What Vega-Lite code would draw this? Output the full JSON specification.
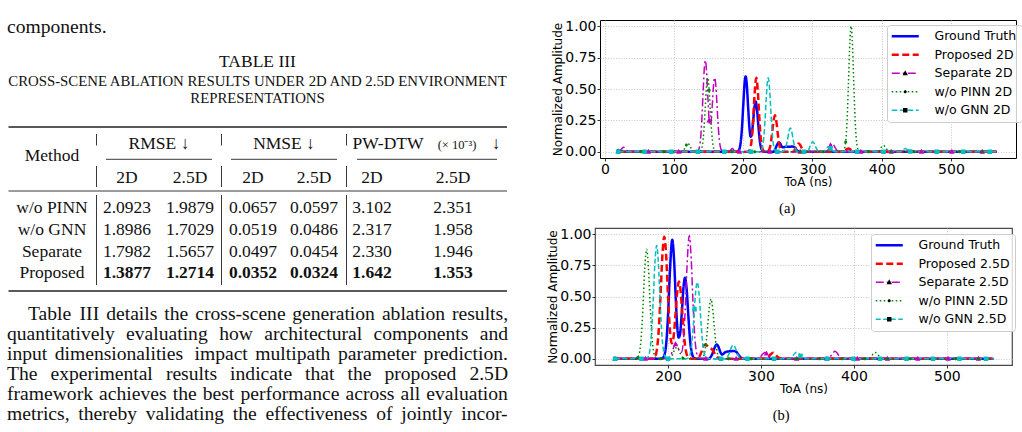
{
  "$schema": "https://vega.github.io/schema/vega-lite/v6.json",
  "padding": 0,
  "background": "white",
  "config": {
    "view": {"stroke": null},
    "axis": {
      "labelFont": "DejaVu Sans", "labelFontSize": 14, "labelColor": "#000", "labelOverlap": false,
      "titleFont": "DejaVu Sans", "titleFontSize": 12, "titleFontWeight": "normal", "titleColor": "#000",
      "domain": false, "tickColor": "#000", "tickSize": 3, "tickWidth": 0.8,
      "labelPadding": 1, "titlePadding": 0,
      "grid": true, "gridColor": "#b8b8b8", "gridDash": [1, 1.6], "gridWidth": 0.8
    }
  },
  "datasets": {
    "a_lines": [
      {"s":"Ground Truth","t":19.2,"a":0},{"s":"Ground Truth","t":190,"a":0},{"s":"Ground Truth","t":192,"a":0.003},{"s":"Ground Truth","t":194,"a":0.016},{"s":"Ground Truth","t":196,"a":0.064},{"s":"Ground Truth","t":198,"a":0.18},{"s":"Ground Truth","t":200,"a":0.374},{"s":"Ground Truth","t":202,"a":0.554},{"s":"Ground Truth","t":203.4,"a":0.6},{"s":"Ground Truth","t":205,"a":0.54},{"s":"Ground Truth","t":207,"a":0.356},{"s":"Ground Truth","t":209,"a":0.184},{"s":"Ground Truth","t":210.6,"a":0.12},{"s":"Ground Truth","t":212,"a":0.13},{"s":"Ground Truth","t":214,"a":0.228},{"s":"Ground Truth","t":216,"a":0.35},{"s":"Ground Truth","t":217.8,"a":0.4},{"s":"Ground Truth","t":220,"a":0.328},{"s":"Ground Truth","t":222,"a":0.195},{"s":"Ground Truth","t":224,"a":0.083},{"s":"Ground Truth","t":226,"a":0.026},{"s":"Ground Truth","t":228,"a":0.006},{"s":"Ground Truth","t":230,"a":0},{"s":"Ground Truth","t":244,"a":0},{"s":"Ground Truth","t":247,"a":0.032},{"s":"Ground Truth","t":249.5,"a":0.063},{"s":"Ground Truth","t":251.5,"a":0.074},{"s":"Ground Truth","t":253.5,"a":0.063},{"s":"Ground Truth","t":256,"a":0.038},{"s":"Ground Truth","t":258,"a":0.036},{"s":"Ground Truth","t":262,"a":0.04},{"s":"Ground Truth","t":266,"a":0.039},{"s":"Ground Truth","t":270,"a":0.041},{"s":"Ground Truth","t":273,"a":0.04},{"s":"Ground Truth","t":276,"a":0.02},{"s":"Ground Truth","t":279,"a":0.004},{"s":"Ground Truth","t":282,"a":0},{"s":"Ground Truth","t":566,"a":0},

      {"s":"Proposed 2D","t":19.2,"a":0},{"s":"Proposed 2D","t":206,"a":0},{"s":"Proposed 2D","t":208,"a":0.005},{"s":"Proposed 2D","t":210,"a":0.025},{"s":"Proposed 2D","t":212,"a":0.089},{"s":"Proposed 2D","t":214,"a":0.23},{"s":"Proposed 2D","t":216,"a":0.43},{"s":"Proposed 2D","t":218.8,"a":0.59},{"s":"Proposed 2D","t":221,"a":0.484},{"s":"Proposed 2D","t":223,"a":0.287},{"s":"Proposed 2D","t":225,"a":0.123},{"s":"Proposed 2D","t":227,"a":0.038},{"s":"Proposed 2D","t":229,"a":0.008},{"s":"Proposed 2D","t":231,"a":0},{"s":"Proposed 2D","t":233,"a":0.001},{"s":"Proposed 2D","t":235,"a":0.003},{"s":"Proposed 2D","t":237,"a":0.013},{"s":"Proposed 2D","t":239,"a":0.046},{"s":"Proposed 2D","t":241,"a":0.118},{"s":"Proposed 2D","t":243,"a":0.215},{"s":"Proposed 2D","t":245.7,"a":0.29},{"s":"Proposed 2D","t":248,"a":0.234},{"s":"Proposed 2D","t":250,"a":0.136},{"s":"Proposed 2D","t":252,"a":0.057},{"s":"Proposed 2D","t":254,"a":0.017},{"s":"Proposed 2D","t":256,"a":0.004},{"s":"Proposed 2D","t":258,"a":0},{"s":"Proposed 2D","t":273,"a":0},{"s":"Proposed 2D","t":275,"a":0.024},{"s":"Proposed 2D","t":277.5,"a":0.051},{"s":"Proposed 2D","t":280,"a":0.066},{"s":"Proposed 2D","t":282.5,"a":0.051},{"s":"Proposed 2D","t":285,"a":0.024},{"s":"Proposed 2D","t":288,"a":0.003},{"s":"Proposed 2D","t":290,"a":0},{"s":"Proposed 2D","t":345,"a":0},{"s":"Proposed 2D","t":348,"a":0.013},{"s":"Proposed 2D","t":352,"a":0.026},{"s":"Proposed 2D","t":356,"a":0.013},{"s":"Proposed 2D","t":360,"a":0},{"s":"Proposed 2D","t":566,"a":0},

      {"s":"Separate 2D","t":19.2,"a":0.003},{"s":"Separate 2D","t":22,"a":0.01},{"s":"Separate 2D","t":24.5,"a":0.025},{"s":"Separate 2D","t":27,"a":0.035},{"s":"Separate 2D","t":29.5,"a":0.025},{"s":"Separate 2D","t":32,"a":0.01},{"s":"Separate 2D","t":35,"a":0},{"s":"Separate 2D","t":132,"a":0},{"s":"Separate 2D","t":134,"a":0.004},{"s":"Separate 2D","t":136,"a":0.023},{"s":"Separate 2D","t":138,"a":0.088},{"s":"Separate 2D","t":140,"a":0.241},{"s":"Separate 2D","t":142,"a":0.479},{"s":"Separate 2D","t":144,"a":0.686},{"s":"Separate 2D","t":145.2,"a":0.727},{"s":"Separate 2D","t":147,"a":0.639},{"s":"Separate 2D","t":149,"a":0.416},{"s":"Separate 2D","t":151.5,"a":0.214},{"s":"Separate 2D","t":153,"a":0.218},{"s":"Separate 2D","t":155,"a":0.351},{"s":"Separate 2D","t":157,"a":0.528},{"s":"Separate 2D","t":158.7,"a":0.59},{"s":"Separate 2D","t":160.5,"a":0.517},{"s":"Separate 2D","t":162.5,"a":0.327},{"s":"Separate 2D","t":164.5,"a":0.15},{"s":"Separate 2D","t":166.5,"a":0.049},{"s":"Separate 2D","t":168.5,"a":0.012},{"s":"Separate 2D","t":171,"a":0},{"s":"Separate 2D","t":179,"a":0},{"s":"Separate 2D","t":181.5,"a":0.012},{"s":"Separate 2D","t":184,"a":0.025},{"s":"Separate 2D","t":186.5,"a":0.012},{"s":"Separate 2D","t":189,"a":0},{"s":"Separate 2D","t":320,"a":0},{"s":"Separate 2D","t":323.5,"a":0.024},{"s":"Separate 2D","t":326,"a":0.051},{"s":"Separate 2D","t":328.5,"a":0.066},{"s":"Separate 2D","t":331,"a":0.051},{"s":"Separate 2D","t":333.5,"a":0.024},{"s":"Separate 2D","t":337,"a":0.002},{"s":"Separate 2D","t":340,"a":0},{"s":"Separate 2D","t":566,"a":0},

      {"s":"w/o PINN 2D","t":19.2,"a":0.01},{"s":"w/o PINN 2D","t":22,"a":0.02},{"s":"w/o PINN 2D","t":25,"a":0.01},{"s":"w/o PINN 2D","t":28,"a":0},{"s":"w/o PINN 2D","t":112,"a":0},{"s":"w/o PINN 2D","t":115,"a":0.024},{"s":"w/o PINN 2D","t":117.5,"a":0.051},{"s":"w/o PINN 2D","t":120,"a":0.066},{"s":"w/o PINN 2D","t":122.5,"a":0.051},{"s":"w/o PINN 2D","t":125,"a":0.024},{"s":"w/o PINN 2D","t":128,"a":0.003},{"s":"w/o PINN 2D","t":131,"a":0},{"s":"w/o PINN 2D","t":137,"a":0.002},{"s":"w/o PINN 2D","t":139,"a":0.014},{"s":"w/o PINN 2D","t":141,"a":0.056},{"s":"w/o PINN 2D","t":143,"a":0.164},{"s":"w/o PINN 2D","t":145,"a":0.348},{"s":"w/o PINN 2D","t":147,"a":0.531},{"s":"w/o PINN 2D","t":148.6,"a":0.59},{"s":"w/o PINN 2D","t":150.5,"a":0.509},{"s":"w/o PINN 2D","t":152.5,"a":0.317},{"s":"w/o PINN 2D","t":154.5,"a":0.142},{"s":"w/o PINN 2D","t":156.5,"a":0.046},{"s":"w/o PINN 2D","t":158.5,"a":0.011},{"s":"w/o PINN 2D","t":161,"a":0},{"s":"w/o PINN 2D","t":342,"a":0},{"s":"w/o PINN 2D","t":344,"a":0.003},{"s":"w/o PINN 2D","t":346,"a":0.02},{"s":"w/o PINN 2D","t":348,"a":0.084},{"s":"w/o PINN 2D","t":350,"a":0.254},{"s":"w/o PINN 2D","t":352,"a":0.555},{"s":"w/o PINN 2D","t":354,"a":0.876},{"s":"w/o PINN 2D","t":355.8,"a":1.0},{"s":"w/o PINN 2D","t":357.5,"a":0.889},{"s":"w/o PINN 2D","t":359.5,"a":0.572},{"s":"w/o PINN 2D","t":361.5,"a":0.266},{"s":"w/o PINN 2D","t":363.5,"a":0.089},{"s":"w/o PINN 2D","t":365.5,"a":0.022},{"s":"w/o PINN 2D","t":368,"a":0.002},{"s":"w/o PINN 2D","t":370,"a":0},{"s":"w/o PINN 2D","t":396,"a":0},{"s":"w/o PINN 2D","t":397.5,"a":0.018},{"s":"w/o PINN 2D","t":400,"a":0.039},{"s":"w/o PINN 2D","t":402.5,"a":0.05},{"s":"w/o PINN 2D","t":405,"a":0.039},{"s":"w/o PINN 2D","t":407.5,"a":0.018},{"s":"w/o PINN 2D","t":410,"a":0.003},{"s":"w/o PINN 2D","t":413,"a":0},{"s":"w/o PINN 2D","t":566,"a":0},

      {"s":"w/o GNN 2D","t":19.2,"a":0},{"s":"w/o GNN 2D","t":224,"a":0},{"s":"w/o GNN 2D","t":225,"a":0.004},{"s":"w/o GNN 2D","t":227,"a":0.022},{"s":"w/o GNN 2D","t":229,"a":0.08},{"s":"w/o GNN 2D","t":231,"a":0.212},{"s":"w/o GNN 2D","t":233,"a":0.408},{"s":"w/o GNN 2D","t":235,"a":0.566},{"s":"w/o GNN 2D","t":236,"a":0.59},{"s":"w/o GNN 2D","t":237.5,"a":0.538},{"s":"w/o GNN 2D","t":239.5,"a":0.358},{"s":"w/o GNN 2D","t":241.5,"a":0.172},{"s":"w/o GNN 2D","t":243.5,"a":0.06},{"s":"w/o GNN 2D","t":245.5,"a":0.015},{"s":"w/o GNN 2D","t":248,"a":0.002},{"s":"w/o GNN 2D","t":250,"a":0},{"s":"w/o GNN 2D","t":256,"a":0},{"s":"w/o GNN 2D","t":258,"a":0.003},{"s":"w/o GNN 2D","t":260,"a":0.014},{"s":"w/o GNN 2D","t":262,"a":0.044},{"s":"w/o GNN 2D","t":264,"a":0.099},{"s":"w/o GNN 2D","t":266,"a":0.162},{"s":"w/o GNN 2D","t":268,"a":0.19},{"s":"w/o GNN 2D","t":270,"a":0.162},{"s":"w/o GNN 2D","t":272,"a":0.099},{"s":"w/o GNN 2D","t":274,"a":0.044},{"s":"w/o GNN 2D","t":276,"a":0.014},{"s":"w/o GNN 2D","t":278,"a":0.003},{"s":"w/o GNN 2D","t":280,"a":0},{"s":"w/o GNN 2D","t":293,"a":0},{"s":"w/o GNN 2D","t":295.4,"a":0.029},{"s":"w/o GNN 2D","t":297.9,"a":0.062},{"s":"w/o GNN 2D","t":300.4,"a":0.08},{"s":"w/o GNN 2D","t":302.9,"a":0.062},{"s":"w/o GNN 2D","t":305.4,"a":0.029},{"s":"w/o GNN 2D","t":308.5,"a":0.003},{"s":"w/o GNN 2D","t":311,"a":0},{"s":"w/o GNN 2D","t":316,"a":0},{"s":"w/o GNN 2D","t":319,"a":0.021},{"s":"w/o GNN 2D","t":321,"a":0.034},{"s":"w/o GNN 2D","t":323,"a":0.04},{"s":"w/o GNN 2D","t":325.5,"a":0.031},{"s":"w/o GNN 2D","t":328,"a":0.014},{"s":"w/o GNN 2D","t":331,"a":0.001},{"s":"w/o GNN 2D","t":333,"a":0},{"s":"w/o GNN 2D","t":427,"a":0},{"s":"w/o GNN 2D","t":430,"a":0.013},{"s":"w/o GNN 2D","t":432,"a":0.021},{"s":"w/o GNN 2D","t":434,"a":0.025},{"s":"w/o GNN 2D","t":436,"a":0.021},{"s":"w/o GNN 2D","t":438,"a":0.013},{"s":"w/o GNN 2D","t":441,"a":0.002},{"s":"w/o GNN 2D","t":443,"a":0},{"s":"w/o GNN 2D","t":566,"a":0}
    ],
    "a_marks": [
      {"s":"Separate 2D","t":19.2,"a":0.003},{"s":"Separate 2D","t":63,"a":0},{"s":"Separate 2D","t":106.9,"a":0},{"s":"Separate 2D","t":150.7,"a":0.25},{"s":"Separate 2D","t":194.5,"a":0},{"s":"Separate 2D","t":238.4,"a":0},{"s":"Separate 2D","t":282.2,"a":0},{"s":"Separate 2D","t":326,"a":0.051},{"s":"Separate 2D","t":369.8,"a":0},{"s":"Separate 2D","t":413.7,"a":0},{"s":"Separate 2D","t":457.5,"a":0},{"s":"Separate 2D","t":501.3,"a":0},{"s":"Separate 2D","t":545.2,"a":0},
      {"s":"w/o PINN 2D","t":19.2,"a":0.01},{"s":"w/o PINN 2D","t":52.1,"a":0},{"s":"w/o PINN 2D","t":84.9,"a":0},{"s":"w/o PINN 2D","t":117.8,"a":0.053},{"s":"w/o PINN 2D","t":150.7,"a":0.49},{"s":"w/o PINN 2D","t":183.6,"a":0},{"s":"w/o PINN 2D","t":216.4,"a":0},{"s":"w/o PINN 2D","t":249.3,"a":0},{"s":"w/o PINN 2D","t":282.2,"a":0},{"s":"w/o PINN 2D","t":315.1,"a":0},{"s":"w/o PINN 2D","t":347.9,"a":0.078},{"s":"w/o PINN 2D","t":380.8,"a":0},{"s":"w/o PINN 2D","t":413.7,"a":0},{"s":"w/o PINN 2D","t":446.6,"a":0},{"s":"w/o PINN 2D","t":479.4,"a":0},{"s":"w/o PINN 2D","t":512.3,"a":0},{"s":"w/o PINN 2D","t":545.2,"a":0},
      {"s":"w/o GNN 2D","t":19.2,"a":0},{"s":"w/o GNN 2D","t":57.5,"a":0},{"s":"w/o GNN 2D","t":95.9,"a":0},{"s":"w/o GNN 2D","t":134.3,"a":0},{"s":"w/o GNN 2D","t":172.6,"a":0},{"s":"w/o GNN 2D","t":211,"a":0},{"s":"w/o GNN 2D","t":249.3,"a":0},{"s":"w/o GNN 2D","t":287.7,"a":0},{"s":"w/o GNN 2D","t":326,"a":0.028},{"s":"w/o GNN 2D","t":364.4,"a":0},{"s":"w/o GNN 2D","t":402.7,"a":0},{"s":"w/o GNN 2D","t":441.1,"a":0.002},{"s":"w/o GNN 2D","t":479.4,"a":0},{"s":"w/o GNN 2D","t":517.8,"a":0},{"s":"w/o GNN 2D","t":556.1,"a":0}
    ],
    "b_lines": [
      {"s":"Ground Truth","t":143,"a":0},{"s":"Ground Truth","t":192,"a":0},{"s":"Ground Truth","t":194,"a":0.004},{"s":"Ground Truth","t":196,"a":0.026},{"s":"Ground Truth","t":198,"a":0.114},{"s":"Ground Truth","t":200,"a":0.34},{"s":"Ground Truth","t":202,"a":0.687},{"s":"Ground Truth","t":204.6,"a":0.955},{"s":"Ground Truth","t":206.5,"a":0.8},{"s":"Ground Truth","t":208.5,"a":0.461},{"s":"Ground Truth","t":210,"a":0.253},{"s":"Ground Truth","t":211.5,"a":0.17},{"s":"Ground Truth","t":213,"a":0.2},{"s":"Ground Truth","t":215,"a":0.387},{"s":"Ground Truth","t":216.8,"a":0.583},{"s":"Ground Truth","t":218.3,"a":0.65},{"s":"Ground Truth","t":220,"a":0.565},{"s":"Ground Truth","t":222,"a":0.333},{"s":"Ground Truth","t":224,"a":0.133},{"s":"Ground Truth","t":226,"a":0.036},{"s":"Ground Truth","t":228,"a":0.007},{"s":"Ground Truth","t":230,"a":0.001},{"s":"Ground Truth","t":232,"a":0},{"s":"Ground Truth","t":244,"a":0},{"s":"Ground Truth","t":246,"a":0.015},{"s":"Ground Truth","t":248,"a":0.044},{"s":"Ground Truth","t":250,"a":0.086},{"s":"Ground Truth","t":252.4,"a":0.114},{"s":"Ground Truth","t":254.5,"a":0.092},{"s":"Ground Truth","t":256.5,"a":0.05},{"s":"Ground Truth","t":258.5,"a":0.034},{"s":"Ground Truth","t":261,"a":0.05},{"s":"Ground Truth","t":264,"a":0.058},{"s":"Ground Truth","t":267,"a":0.06},{"s":"Ground Truth","t":271,"a":0.062},{"s":"Ground Truth","t":273.5,"a":0.055},{"s":"Ground Truth","t":276,"a":0.03},{"s":"Ground Truth","t":278.5,"a":0.008},{"s":"Ground Truth","t":281,"a":0},{"s":"Ground Truth","t":550,"a":0},

      {"s":"Proposed 2.5D","t":143,"a":0},{"s":"Proposed 2.5D","t":183,"a":0},{"s":"Proposed 2.5D","t":184,"a":0.003},{"s":"Proposed 2.5D","t":186,"a":0.017},{"s":"Proposed 2.5D","t":188,"a":0.072},{"s":"Proposed 2.5D","t":190,"a":0.225},{"s":"Proposed 2.5D","t":192,"a":0.51},{"s":"Proposed 2.5D","t":194,"a":0.833},{"s":"Proposed 2.5D","t":196,"a":0.98},{"s":"Proposed 2.5D","t":198,"a":0.833},{"s":"Proposed 2.5D","t":200,"a":0.512},{"s":"Proposed 2.5D","t":202,"a":0.237},{"s":"Proposed 2.5D","t":204,"a":0.124},{"s":"Proposed 2.5D","t":205,"a":0.13},{"s":"Proposed 2.5D","t":206,"a":0.175},{"s":"Proposed 2.5D","t":208,"a":0.347},{"s":"Proposed 2.5D","t":210,"a":0.543},{"s":"Proposed 2.5D","t":211.8,"a":0.62},{"s":"Proposed 2.5D","t":213.5,"a":0.551},{"s":"Proposed 2.5D","t":215.5,"a":0.355},{"s":"Proposed 2.5D","t":217.5,"a":0.165},{"s":"Proposed 2.5D","t":219.5,"a":0.055},{"s":"Proposed 2.5D","t":221.5,"a":0.013},{"s":"Proposed 2.5D","t":224,"a":0.002},{"s":"Proposed 2.5D","t":226,"a":0},{"s":"Proposed 2.5D","t":232,"a":0},{"s":"Proposed 2.5D","t":234,"a":0.02},{"s":"Proposed 2.5D","t":236,"a":0.055},{"s":"Proposed 2.5D","t":238,"a":0.1},{"s":"Proposed 2.5D","t":240,"a":0.115},{"s":"Proposed 2.5D","t":242,"a":0.105},{"s":"Proposed 2.5D","t":244,"a":0.088},{"s":"Proposed 2.5D","t":246,"a":0.082},{"s":"Proposed 2.5D","t":248,"a":0.07},{"s":"Proposed 2.5D","t":250,"a":0.045},{"s":"Proposed 2.5D","t":252,"a":0.02},{"s":"Proposed 2.5D","t":254,"a":0.005},{"s":"Proposed 2.5D","t":256,"a":0},{"s":"Proposed 2.5D","t":303,"a":0},{"s":"Proposed 2.5D","t":305,"a":0.003},{"s":"Proposed 2.5D","t":308,"a":0.014},{"s":"Proposed 2.5D","t":310.5,"a":0.036},{"s":"Proposed 2.5D","t":313,"a":0.048},{"s":"Proposed 2.5D","t":315.5,"a":0.036},{"s":"Proposed 2.5D","t":318,"a":0.014},{"s":"Proposed 2.5D","t":321,"a":0.002},{"s":"Proposed 2.5D","t":323,"a":0},{"s":"Proposed 2.5D","t":550,"a":0},

      {"s":"Separate 2.5D","t":143,"a":0},{"s":"Separate 2.5D","t":200,"a":0},{"s":"Separate 2.5D","t":202,"a":0.015},{"s":"Separate 2.5D","t":204.5,"a":0.055},{"s":"Separate 2.5D","t":206.5,"a":0.099},{"s":"Separate 2.5D","t":208.5,"a":0.12},{"s":"Separate 2.5D","t":210.5,"a":0.099},{"s":"Separate 2.5D","t":212.5,"a":0.06},{"s":"Separate 2.5D","t":214.5,"a":0.053},{"s":"Separate 2.5D","t":216.5,"a":0.139},{"s":"Separate 2.5D","t":218.5,"a":0.385},{"s":"Separate 2.5D","t":220.5,"a":0.747},{"s":"Separate 2.5D","t":222.9,"a":0.99},{"s":"Separate 2.5D","t":225,"a":0.798},{"s":"Separate 2.5D","t":227,"a":0.436},{"s":"Separate 2.5D","t":229,"a":0.161},{"s":"Separate 2.5D","t":231,"a":0.041},{"s":"Separate 2.5D","t":233,"a":0.007},{"s":"Separate 2.5D","t":235,"a":0},{"s":"Separate 2.5D","t":297,"a":0},{"s":"Separate 2.5D","t":299.5,"a":0.015},{"s":"Separate 2.5D","t":302,"a":0.038},{"s":"Separate 2.5D","t":304.3,"a":0.05},{"s":"Separate 2.5D","t":306.5,"a":0.039},{"s":"Separate 2.5D","t":309,"a":0.015},{"s":"Separate 2.5D","t":312,"a":0},{"s":"Separate 2.5D","t":372,"a":0},{"s":"Separate 2.5D","t":375,"a":0.021},{"s":"Separate 2.5D","t":377.5,"a":0.048},{"s":"Separate 2.5D","t":379.6,"a":0.06},{"s":"Separate 2.5D","t":382,"a":0.045},{"s":"Separate 2.5D","t":384.5,"a":0.017},{"s":"Separate 2.5D","t":387,"a":0},{"s":"Separate 2.5D","t":550,"a":0},

      {"s":"w/o PINN 2.5D","t":143,"a":0},{"s":"w/o PINN 2.5D","t":165,"a":0},{"s":"w/o PINN 2.5D","t":167,"a":0.007},{"s":"w/o PINN 2.5D","t":169,"a":0.039},{"s":"w/o PINN 2.5D","t":171,"a":0.152},{"s":"w/o PINN 2.5D","t":173,"a":0.403},{"s":"w/o PINN 2.5D","t":175,"a":0.724},{"s":"w/o PINN 2.5D","t":177,"a":0.88},{"s":"w/o PINN 2.5D","t":179,"a":0.724},{"s":"w/o PINN 2.5D","t":181,"a":0.403},{"s":"w/o PINN 2.5D","t":183,"a":0.152},{"s":"w/o PINN 2.5D","t":185,"a":0.039},{"s":"w/o PINN 2.5D","t":187,"a":0.007},{"s":"w/o PINN 2.5D","t":189,"a":0},{"s":"w/o PINN 2.5D","t":203,"a":0},{"s":"w/o PINN 2.5D","t":205.3,"a":0.041},{"s":"w/o PINN 2.5D","t":207.3,"a":0.074},{"s":"w/o PINN 2.5D","t":209.3,"a":0.09},{"s":"w/o PINN 2.5D","t":211.3,"a":0.074},{"s":"w/o PINN 2.5D","t":213.3,"a":0.041},{"s":"w/o PINN 2.5D","t":215.5,"a":0.012},{"s":"w/o PINN 2.5D","t":218,"a":0},{"s":"w/o PINN 2.5D","t":236,"a":0},{"s":"w/o PINN 2.5D","t":238.2,"a":0.021},{"s":"w/o PINN 2.5D","t":240.2,"a":0.083},{"s":"w/o PINN 2.5D","t":242.2,"a":0.22},{"s":"w/o PINN 2.5D","t":244.2,"a":0.395},{"s":"w/o PINN 2.5D","t":246.2,"a":0.48},{"s":"w/o PINN 2.5D","t":248.2,"a":0.395},{"s":"w/o PINN 2.5D","t":250.2,"a":0.22},{"s":"w/o PINN 2.5D","t":252.2,"a":0.083},{"s":"w/o PINN 2.5D","t":254.2,"a":0.021},{"s":"w/o PINN 2.5D","t":256.5,"a":0.002},{"s":"w/o PINN 2.5D","t":258,"a":0},{"s":"w/o PINN 2.5D","t":416,"a":0},{"s":"w/o PINN 2.5D","t":419,"a":0.023},{"s":"w/o PINN 2.5D","t":421,"a":0.041},{"s":"w/o PINN 2.5D","t":423,"a":0.05},{"s":"w/o PINN 2.5D","t":425,"a":0.041},{"s":"w/o PINN 2.5D","t":427,"a":0.023},{"s":"w/o PINN 2.5D","t":430,"a":0.003},{"s":"w/o PINN 2.5D","t":432,"a":0},{"s":"w/o PINN 2.5D","t":550,"a":0},

      {"s":"w/o GNN 2.5D","t":143,"a":0},{"s":"w/o GNN 2.5D","t":177,"a":0},{"s":"w/o GNN 2.5D","t":178,"a":0.008},{"s":"w/o GNN 2.5D","t":180,"a":0.047},{"s":"w/o GNN 2.5D","t":182,"a":0.176},{"s":"w/o GNN 2.5D","t":184,"a":0.45},{"s":"w/o GNN 2.5D","t":186,"a":0.777},{"s":"w/o GNN 2.5D","t":187.8,"a":0.91},{"s":"w/o GNN 2.5D","t":189.6,"a":0.777},{"s":"w/o GNN 2.5D","t":191.6,"a":0.45},{"s":"w/o GNN 2.5D","t":193.6,"a":0.176},{"s":"w/o GNN 2.5D","t":195.6,"a":0.047},{"s":"w/o GNN 2.5D","t":197.6,"a":0.008},{"s":"w/o GNN 2.5D","t":200,"a":0},{"s":"w/o GNN 2.5D","t":219,"a":0},{"s":"w/o GNN 2.5D","t":221.5,"a":0.005},{"s":"w/o GNN 2.5D","t":223.5,"a":0.029},{"s":"w/o GNN 2.5D","t":225.5,"a":0.112},{"s":"w/o GNN 2.5D","t":227.5,"a":0.293},{"s":"w/o GNN 2.5D","t":229.5,"a":0.515},{"s":"w/o GNN 2.5D","t":231.5,"a":0.615},{"s":"w/o GNN 2.5D","t":233.5,"a":0.515},{"s":"w/o GNN 2.5D","t":235.5,"a":0.293},{"s":"w/o GNN 2.5D","t":237.5,"a":0.112},{"s":"w/o GNN 2.5D","t":239.5,"a":0.029},{"s":"w/o GNN 2.5D","t":241.5,"a":0.005},{"s":"w/o GNN 2.5D","t":244,"a":0},{"s":"w/o GNN 2.5D","t":262,"a":0},{"s":"w/o GNN 2.5D","t":264.2,"a":0.019},{"s":"w/o GNN 2.5D","t":266.2,"a":0.05},{"s":"w/o GNN 2.5D","t":268.2,"a":0.091},{"s":"w/o GNN 2.5D","t":270.2,"a":0.11},{"s":"w/o GNN 2.5D","t":272.2,"a":0.091},{"s":"w/o GNN 2.5D","t":274.2,"a":0.05},{"s":"w/o GNN 2.5D","t":276.2,"a":0.019},{"s":"w/o GNN 2.5D","t":279,"a":0.002},{"s":"w/o GNN 2.5D","t":281,"a":0},{"s":"w/o GNN 2.5D","t":331,"a":0},{"s":"w/o GNN 2.5D","t":334,"a":0.021},{"s":"w/o GNN 2.5D","t":336.4,"a":0.044},{"s":"w/o GNN 2.5D","t":338.4,"a":0.053},{"s":"w/o GNN 2.5D","t":340.4,"a":0.044},{"s":"w/o GNN 2.5D","t":342.8,"a":0.021},{"s":"w/o GNN 2.5D","t":345.5,"a":0.004},{"s":"w/o GNN 2.5D","t":348,"a":0},{"s":"w/o GNN 2.5D","t":550,"a":0}
    ],
    "b_marks": [
      {"s":"Separate 2.5D","t":143,"a":0},{"s":"Separate 2.5D","t":175.6,"a":0},{"s":"Separate 2.5D","t":208.1,"a":0.118},{"s":"Separate 2.5D","t":240.7,"a":0},{"s":"Separate 2.5D","t":273.3,"a":0},{"s":"Separate 2.5D","t":305.9,"a":0.043},{"s":"Separate 2.5D","t":338.4,"a":0},{"s":"Separate 2.5D","t":371,"a":0},{"s":"Separate 2.5D","t":403.6,"a":0},{"s":"Separate 2.5D","t":436.1,"a":0},{"s":"Separate 2.5D","t":468.7,"a":0},{"s":"Separate 2.5D","t":501.3,"a":0},{"s":"Separate 2.5D","t":533.9,"a":0},
      {"s":"w/o PINN 2.5D","t":143,"a":0},{"s":"w/o PINN 2.5D","t":167.4,"a":0.01},{"s":"w/o PINN 2.5D","t":191.9,"a":0},{"s":"w/o PINN 2.5D","t":216.3,"a":0.004},{"s":"w/o PINN 2.5D","t":240.7,"a":0.11},{"s":"w/o PINN 2.5D","t":265.2,"a":0},{"s":"w/o PINN 2.5D","t":289.6,"a":0},{"s":"w/o PINN 2.5D","t":314,"a":0},{"s":"w/o PINN 2.5D","t":338.4,"a":0},{"s":"w/o PINN 2.5D","t":362.9,"a":0},{"s":"w/o PINN 2.5D","t":387.3,"a":0},{"s":"w/o PINN 2.5D","t":411.7,"a":0},{"s":"w/o PINN 2.5D","t":436.1,"a":0},{"s":"w/o PINN 2.5D","t":460.6,"a":0},{"s":"w/o PINN 2.5D","t":485,"a":0},{"s":"w/o PINN 2.5D","t":509.4,"a":0},{"s":"w/o PINN 2.5D","t":533.9,"a":0},
      {"s":"w/o GNN 2.5D","t":143,"a":0},{"s":"w/o GNN 2.5D","t":171.5,"a":0},{"s":"w/o GNN 2.5D","t":200,"a":0},{"s":"w/o GNN 2.5D","t":228.5,"a":0.397},{"s":"w/o GNN 2.5D","t":257,"a":0},{"s":"w/o GNN 2.5D","t":285.5,"a":0},{"s":"w/o GNN 2.5D","t":314,"a":0},{"s":"w/o GNN 2.5D","t":342.5,"a":0.023},{"s":"w/o GNN 2.5D","t":371,"a":0},{"s":"w/o GNN 2.5D","t":399.5,"a":0},{"s":"w/o GNN 2.5D","t":428,"a":0},{"s":"w/o GNN 2.5D","t":456.5,"a":0},{"s":"w/o GNN 2.5D","t":485,"a":0},{"s":"w/o GNN 2.5D","t":513.5,"a":0},{"s":"w/o GNN 2.5D","t":542,"a":0}
    ]
  },
  "bounds": "flush",
  "spacing": 75,
  "resolve": {
    "scale": {"color": "independent", "strokeDash": "independent", "shape": "independent"},
    "legend": {"color": "independent", "strokeDash": "independent", "shape": "independent"}
  },
  "hconcat": [
    {
      "width": 520,
      "height": 432,
      "view": {"stroke": null},
      "encoding": {
        "x": {"field": "col", "type": "quantitative", "axis": null,
              "scale": {"nice": false, "zero": false,
                        "domain": [0,1,2,3,4,5,6,7,8,9,10,11,12,13,14,15,16,17,18,19,20,21,22,23,24,25,26,27,28,29,30,31,32,33,34,35,36,37,38,39,40,41,42,43,44,45,46,47,48,49,50,51,52,53,54,55,56,57,58,59,60,61,62,63,64,65,66,67,68,69,70],
                        "range": [7,8.5,28,52,96.5,106,127,159,190,212,221.5,231,253,257.5,284,314,337,346.5,357,372,388,453,457,496,497,507,508,
                                  28,79.6,106.2,164.3,195.3,292.2,381.9,452.0,
                                  7,126.1,219.2,264.3,373.6,479.7,
                                  7,54.7,194.5,255.3,337.9,423.6,
                                  7,50.5,165.9,230.1,305.1,347.5,384.5,469.4,
                                  7,99.1,172.7,202.7,240.4,345.5,400.6,426.3,
                                  7,78.3,145.7,232.8,265.4,376.3,401.3,461.2]}},
        "y": {"field": "row", "type": "quantitative", "axis": null,
              "scale": {"nice": false, "zero": false,
                        "domain": [0,1,2,3,4,5,6,7,8,9,10,11,12,13,14,15,16,17,18,19,20,21,22,23,24,25,26],
                        "range": [33.3,66.7,86,103.3,127,134,145.5,149,159.3,160.5,166,182.7,187,191,195,213.2,234.8,256.5,278.2,285,291,320,340,360,380,400,420]}}
      },
      "layer": [
        {
          "data": {"values": [
            {"row":0,"col":0,"txt":"components."},
            {"row":21,"col":27,"txt":"Table"},{"row":21,"col":28,"txt":"III"},{"row":21,"col":29,"txt":"details"},{"row":21,"col":30,"txt":"the"},{"row":21,"col":31,"txt":"cross-scene"},{"row":21,"col":32,"txt":"generation"},{"row":21,"col":33,"txt":"ablation"},{"row":21,"col":34,"txt":"results,"},
            {"row":22,"col":35,"txt":"quantitatively"},{"row":22,"col":36,"txt":"evaluating"},{"row":22,"col":37,"txt":"how"},{"row":22,"col":38,"txt":"architectural"},{"row":22,"col":39,"txt":"components"},{"row":22,"col":40,"txt":"and"},
            {"row":23,"col":41,"txt":"input"},{"row":23,"col":42,"txt":"dimensionalities"},{"row":23,"col":43,"txt":"impact"},{"row":23,"col":44,"txt":"multipath"},{"row":23,"col":45,"txt":"parameter"},{"row":23,"col":46,"txt":"prediction."},
            {"row":24,"col":47,"txt":"The"},{"row":24,"col":48,"txt":"experimental"},{"row":24,"col":49,"txt":"results"},{"row":24,"col":50,"txt":"indicate"},{"row":24,"col":51,"txt":"that"},{"row":24,"col":52,"txt":"the"},{"row":24,"col":53,"txt":"proposed"},{"row":24,"col":54,"txt":"2.5D"},
            {"row":25,"col":55,"txt":"framework"},{"row":25,"col":56,"txt":"achieves"},{"row":25,"col":57,"txt":"the"},{"row":25,"col":58,"txt":"best"},{"row":25,"col":59,"txt":"performance"},{"row":25,"col":60,"txt":"across"},{"row":25,"col":61,"txt":"all"},{"row":25,"col":62,"txt":"evaluation"},
            {"row":26,"col":63,"txt":"metrics,"},{"row":26,"col":64,"txt":"thereby"},{"row":26,"col":65,"txt":"validating"},{"row":26,"col":66,"txt":"the"},{"row":26,"col":67,"txt":"effectiveness"},{"row":26,"col":68,"txt":"of"},{"row":26,"col":69,"txt":"jointly"},{"row":26,"col":70,"txt":"incor-"}
          ]},
          "mark": {"type": "text", "align": "left", "baseline": "alphabetic", "font": "Liberation Serif", "fontSize": 19.6, "color": "#111"},
          "encoding": {"text": {"field": "txt"}}
        },
        {
          "data": {"values": [{"row":1,"col":13,"txt":"TABLE III"}]},
          "mark": {"type": "text", "align": "center", "baseline": "alphabetic", "font": "Liberation Serif", "fontSize": 17.5, "color": "#111"},
          "encoding": {"text": {"field": "txt"}}
        },
        {
          "data": {"values": [
            {"row":2,"col":13,"txt":"CROSS-SCENE ABLATION RESULTS UNDER 2D AND 2.5D ENVIRONMENT"},
            {"row":3,"col":13,"txt":"REPRESENTATIONS"}
          ]},
          "mark": {"type": "text", "align": "center", "baseline": "alphabetic", "font": "Liberation Serif", "fontSize": 14.8, "color": "#111"},
          "encoding": {"text": {"field": "txt"}}
        },
        {
          "data": {"values": [
            {"row":9,"col":3,"txt":"Method"},
            {"row":7,"col":7,"txt":"RMSE ↓"},{"row":7,"col":14,"txt":"NMSE ↓"},{"row":7,"col":20,"txt":"PW-DTW"},{"row":7,"col":23,"txt":"↓"},
            {"row":11,"col":6,"txt":"2D"},{"row":11,"col":8,"txt":"2.5D"},{"row":11,"col":12,"txt":"2D"},{"row":11,"col":15,"txt":"2.5D"},{"row":11,"col":19,"txt":"2D"},{"row":11,"col":21,"txt":"2.5D"},
            {"row":15,"col":3,"txt":"w/o PINN"},{"row":15,"col":6,"txt":"2.0923"},{"row":15,"col":8,"txt":"1.9879"},{"row":15,"col":12,"txt":"0.0657"},{"row":15,"col":15,"txt":"0.0597"},{"row":15,"col":19,"txt":"3.102"},{"row":15,"col":21,"txt":"2.351"},
            {"row":16,"col":3,"txt":"w/o GNN"},{"row":16,"col":6,"txt":"1.8986"},{"row":16,"col":8,"txt":"1.7029"},{"row":16,"col":12,"txt":"0.0519"},{"row":16,"col":15,"txt":"0.0486"},{"row":16,"col":19,"txt":"2.317"},{"row":16,"col":21,"txt":"1.958"},
            {"row":17,"col":3,"txt":"Separate"},{"row":17,"col":6,"txt":"1.7982"},{"row":17,"col":8,"txt":"1.5657"},{"row":17,"col":12,"txt":"0.0497"},{"row":17,"col":15,"txt":"0.0454"},{"row":17,"col":19,"txt":"2.330"},{"row":17,"col":21,"txt":"1.946"},
            {"row":18,"col":3,"txt":"Proposed"}
          ]},
          "mark": {"type": "text", "align": "center", "baseline": "alphabetic", "font": "Liberation Serif", "fontSize": 17.5, "color": "#111"},
          "encoding": {"text": {"field": "txt"}}
        },
        {
          "data": {"values": [
            {"row":18,"col":6,"txt":"1.3877"},{"row":18,"col":8,"txt":"1.2714"},{"row":18,"col":12,"txt":"0.0352"},{"row":18,"col":15,"txt":"0.0324"},{"row":18,"col":19,"txt":"1.642"},{"row":18,"col":21,"txt":"1.353"}
          ]},
          "mark": {"type": "text", "align": "center", "baseline": "alphabetic", "font": "Liberation Serif", "fontSize": 17.5, "fontWeight": "bold", "color": "#111"},
          "encoding": {"text": {"field": "txt"}}
        },
        {
          "data": {"values": [{"row":7,"col":22,"txt":"(× 10⁻³)"}]},
          "mark": {"type": "text", "align": "center", "baseline": "alphabetic", "font": "Liberation Serif", "fontSize": 12.5, "color": "#111"},
          "encoding": {"text": {"field": "txt"}}
        },
        {
          "data": {"values": [{"row":4,"col":1,"col2":25},{"row":20,"col":1,"col2":25}]},
          "mark": {"type": "rule", "color": "#222", "strokeWidth": 1.7},
          "encoding": {"x2": {"field": "col2"}}
        },
        {
          "data": {"values": [{"row":13,"col":1,"col2":25},{"row":8,"col":5,"col2":9},{"row":8,"col":11,"col2":16},{"row":8,"col":18,"col2":24}]},
          "mark": {"type": "rule", "color": "#222", "strokeWidth": 0.9},
          "encoding": {"x2": {"field": "col2"}}
        },
        {
          "data": {"values": [
            {"col":4,"row":5,"row2":6},{"col":4,"row":10,"row2":12},{"col":4,"row":14,"row2":19},
            {"col":10,"row":5,"row2":6},{"col":10,"row":10,"row2":12},{"col":10,"row":14,"row2":19},
            {"col":17,"row":5,"row2":6},{"col":17,"row":10,"row2":12},{"col":17,"row":14,"row2":19}
          ]},
          "mark": {"type": "rule", "color": "#222", "strokeWidth": 0.9},
          "encoding": {"y2": {"field": "row2"}}
        }
      ]
    },
    {
      "bounds": "flush",
      "spacing": 19,
      "resolve": {
        "scale": {"color": "independent", "strokeDash": "independent", "shape": "independent"},
        "legend": {"color": "independent", "strokeDash": "independent", "shape": "independent"}
      },
      "vconcat": [
        {"width": 1, "height": 1, "data": {"values": []}, "mark": "text", "view": {"stroke": null}},
        {
          "bounds": "flush",
          "spacing": 208,
          "resolve": {
            "scale": {"color": "independent", "strokeDash": "independent", "shape": "independent"},
            "legend": {"color": "independent", "strokeDash": "independent", "shape": "independent"}
          },
          "vconcat": [
            {
              "bounds": "flush",
              "spacing": 4,
              "resolve": {
                "scale": {"color": "independent", "strokeDash": "independent", "shape": "independent"},
                "legend": {"color": "independent", "strokeDash": "independent", "shape": "independent"}
              },
              "hconcat": [
                {"width": 1, "height": 138, "data": {"values": []}, "mark": "text", "view": {"stroke": null}},
                {
                  "width": 416,
                  "height": 138,
                  "view": {"stroke": "#000", "strokeWidth": 1},
                  "title": {"text": "(a)", "orient": "bottom", "anchor": "middle", "frame": "bounds", "offset": 15, "font": "Liberation Serif", "fontSize": 14.5, "fontWeight": "normal", "color": "#000"},
                  "encoding": {
                    "x": {"field": "t", "type": "quantitative", "title": "ToA (ns)",
                          "scale": {"domain": [-7, 594], "nice": false, "zero": false},
                          "axis": {"values": [0, 100, 200, 300, 400, 500], "labelOverlap": false}},
                    "y": {"field": "a", "type": "quantitative", "title": "Normalized Amplitude",
                          "scale": {"domain": [-0.05, 1.05], "nice": false, "zero": false},
                          "axis": {"values": [0, 0.25, 0.5, 0.75, 1], "tickCount": 5, "format": ".2f", "labelOverlap": false}}
                  },
                  "layer": [
                    {
                      "data": {"name": "a_lines"},
                      "mark": {"type": "line", "interpolate": "monotone"},
                      "encoding": {
                        "color": {"field": "s", "type": "nominal",
                                  "scale": {"domain": ["Ground Truth","Proposed 2D","Separate 2D","w/o PINN 2D","w/o GNN 2D"], "range": ["#0000ff","#ff0000","#bf00bf","#008000","#00bfbf"]},
                                  "legend": {"orient": "none", "legendX": 287, "legendY": 5, "title": null,
                                             "symbolType": "M-3,0L3,0", "symbolSize": 81, "symbolStrokeWidth": 2,
                                             "symbolOffset": 7, "labelOffset": 23, "labelFont": "DejaVu Sans", "labelFontSize": 12.5, "labelColor": "#000",
                                             "rowPadding": 5.5, "padding": 5, "strokeColor": "#cccccc", "fillColor": "rgba(255,255,255,0.8)", "cornerRadius": 3,
                                             "encode": {"symbols": {"update": {"strokeWidth": {"signal": "datum.value == 'Ground Truth' || datum.value == 'Proposed 2D' ? 2.5 : 1.5"}}}}}},
                        "strokeDash": {"field": "s", "type": "nominal",
                                  "scale": {"domain": ["Ground Truth","Proposed 2D","Separate 2D","w/o PINN 2D","w/o GNN 2D"], "range": [[1,0],[7,3.5],[8,3,2,3],[1.5,2.5],[5.5,2.5]]},
                                  "legend": {"orient": "none", "legendX": 287, "legendY": 5, "title": null,
                                             "symbolType": "M-3,0L3,0", "symbolSize": 81, "symbolStrokeWidth": 2,
                                             "symbolOffset": 7, "labelOffset": 23, "labelFont": "DejaVu Sans", "labelFontSize": 12.5, "labelColor": "#000",
                                             "rowPadding": 5.5, "padding": 5, "strokeColor": "#cccccc", "fillColor": "rgba(255,255,255,0.8)", "cornerRadius": 3,
                                             "encode": {"symbols": {"update": {"strokeWidth": {"signal": "datum.value == 'Ground Truth' || datum.value == 'Proposed 2D' ? 2.5 : 1.5"}}}}}},
                        "strokeWidth": {"condition": {"test": "datum.s == 'Ground Truth' || datum.s == 'Proposed 2D'", "value": 2.5}, "value": 1.5}
                      }
                    },
                    {
                      "data": {"name": "a_marks"},
                      "mark": {"type": "point", "filled": true, "size": 36, "opacity": 1},
                      "encoding": {
                        "color": {"field": "s", "type": "nominal", "legend": null},
                        "shape": {"field": "s", "type": "nominal",
                                  "scale": {"domain": ["Ground Truth","Proposed 2D","Separate 2D","w/o PINN 2D","w/o GNN 2D","none"],
                                            "range": ["M0,0","M0,0","M0,-1L0.9,0.7L-0.9,0.7Z","M-0.5,0A0.5,0.5,0,1,0,0.5,0A0.5,0.5,0,1,0,-0.5,0Z","M-0.75,-0.75H0.75V0.75H-0.75Z","M0,0"]},
                                  "legend": {"orient": "none", "legendX": 287, "legendY": 5, "title": null, "zindex": 1,
                                             "values": ["Ground Truth","Proposed 2D","Separate 2D","w/o PINN 2D","w/o GNN 2D"],
                                             "symbolSize": 36, "symbolStrokeWidth": 0, "symbolOffset": 7, "labelOffset": 23,
                                             "labelFont": "DejaVu Sans", "labelFontSize": 12.5, "labelOpacity": 0,
                                             "rowPadding": 5.5, "padding": 5,
                                             "encode": {"symbols": {"update": {"fill": {"signal": "datum.value == 'Separate 2D' ? '#bf00bf' : datum.value == 'w/o PINN 2D' ? '#008000' : '#00bfbf'"}, "opacity": {"value": 1}}}}}}
                      }
                    }
                  ]
                }
              ]
            },
            {
              "width": 417,
              "height": 137,
              "view": {"stroke": "#4a4a4a", "strokeWidth": 1.2},
              "title": {"text": "(b)", "orient": "bottom", "anchor": "middle", "frame": "bounds", "offset": 15, "font": "Liberation Serif", "fontSize": 14.5, "fontWeight": "normal", "color": "#000"},
              "encoding": {
                "x": {"field": "t", "type": "quantitative", "title": "ToA (ns)",
                      "scale": {"domain": [121.5, 570], "nice": false, "zero": false},
                      "axis": {"values": [200, 300, 400, 500], "labelOverlap": false}},
                "y": {"field": "a", "type": "quantitative", "title": "Normalized Amplitude",
                      "scale": {"domain": [-0.05, 1.05], "nice": false, "zero": false},
                      "axis": {"values": [0, 0.25, 0.5, 0.75, 1], "tickCount": 5, "format": ".2f", "labelOverlap": false}}
              },
              "layer": [
                {
                  "data": {"name": "b_lines"},
                  "mark": {"type": "line", "interpolate": "monotone"},
                  "encoding": {
                    "color": {"field": "s", "type": "nominal",
                              "scale": {"domain": ["Ground Truth","Proposed 2.5D","Separate 2.5D","w/o PINN 2.5D","w/o GNN 2.5D"], "range": ["#0000ff","#ff0000","#bf00bf","#008000","#00bfbf"]},
                              "legend": {"orient": "none", "legendX": 276, "legendY": 6, "title": null,
                                         "symbolType": "M-3,0L3,0", "symbolSize": 81, "symbolStrokeWidth": 2,
                                         "symbolOffset": 7, "labelOffset": 23, "labelFont": "DejaVu Sans", "labelFontSize": 12.5, "labelColor": "#000",
                                         "rowPadding": 5.5, "padding": 5, "strokeColor": "#cccccc", "fillColor": "rgba(255,255,255,0.8)", "cornerRadius": 3,
                                         "encode": {"symbols": {"update": {"strokeWidth": {"signal": "datum.value == 'Ground Truth' || datum.value == 'Proposed 2.5D' ? 2.5 : 1.5"}}}}}},
                    "strokeDash": {"field": "s", "type": "nominal",
                              "scale": {"domain": ["Ground Truth","Proposed 2.5D","Separate 2.5D","w/o PINN 2.5D","w/o GNN 2.5D"], "range": [[1,0],[7,3.5],[8,3,2,3],[1.5,2.5],[5,2.5]]},
                              "legend": {"orient": "none", "legendX": 276, "legendY": 6, "title": null,
                                         "symbolType": "M-3,0L3,0", "symbolSize": 81, "symbolStrokeWidth": 2,
                                         "symbolOffset": 7, "labelOffset": 23, "labelFont": "DejaVu Sans", "labelFontSize": 12.5, "labelColor": "#000",
                                         "rowPadding": 5.5, "padding": 5, "strokeColor": "#cccccc", "fillColor": "rgba(255,255,255,0.8)", "cornerRadius": 3,
                                         "encode": {"symbols": {"update": {"strokeWidth": {"signal": "datum.value == 'Ground Truth' || datum.value == 'Proposed 2.5D' ? 2.5 : 1.5"}}}}}},
                    "strokeWidth": {"condition": {"test": "datum.s == 'Ground Truth' || datum.s == 'Proposed 2.5D'", "value": 2.5}, "value": 1.5}
                  }
                },
                {
                  "data": {"name": "b_marks"},
                  "mark": {"type": "point", "filled": true, "size": 36, "opacity": 1},
                  "encoding": {
                    "color": {"field": "s", "type": "nominal", "legend": null},
                    "shape": {"field": "s", "type": "nominal",
                              "scale": {"domain": ["Ground Truth","Proposed 2.5D","Separate 2.5D","w/o PINN 2.5D","w/o GNN 2.5D","none"],
                                        "range": ["M0,0","M0,0","M0,-1L0.9,0.7L-0.9,0.7Z","M-0.5,0A0.5,0.5,0,1,0,0.5,0A0.5,0.5,0,1,0,-0.5,0Z","M-0.75,-0.75H0.75V0.75H-0.75Z","M0,0"]},
                              "legend": {"orient": "none", "legendX": 276, "legendY": 6, "title": null, "zindex": 1,
                                         "values": ["Ground Truth","Proposed 2.5D","Separate 2.5D","w/o PINN 2.5D","w/o GNN 2.5D"],
                                         "symbolSize": 36, "symbolStrokeWidth": 0, "symbolOffset": 7, "labelOffset": 23,
                                         "labelFont": "DejaVu Sans", "labelFontSize": 12.5, "labelOpacity": 0,
                                         "rowPadding": 5.5, "padding": 5,
                                         "encode": {"symbols": {"update": {"fill": {"signal": "datum.value == 'Separate 2.5D' ? '#bf00bf' : datum.value == 'w/o PINN 2.5D' ? '#008000' : '#00bfbf'"}, "opacity": {"value": 1}}}}}}
                  }
                }
              ]
            }
          ]
        }
      ]
    }
  ]
}
